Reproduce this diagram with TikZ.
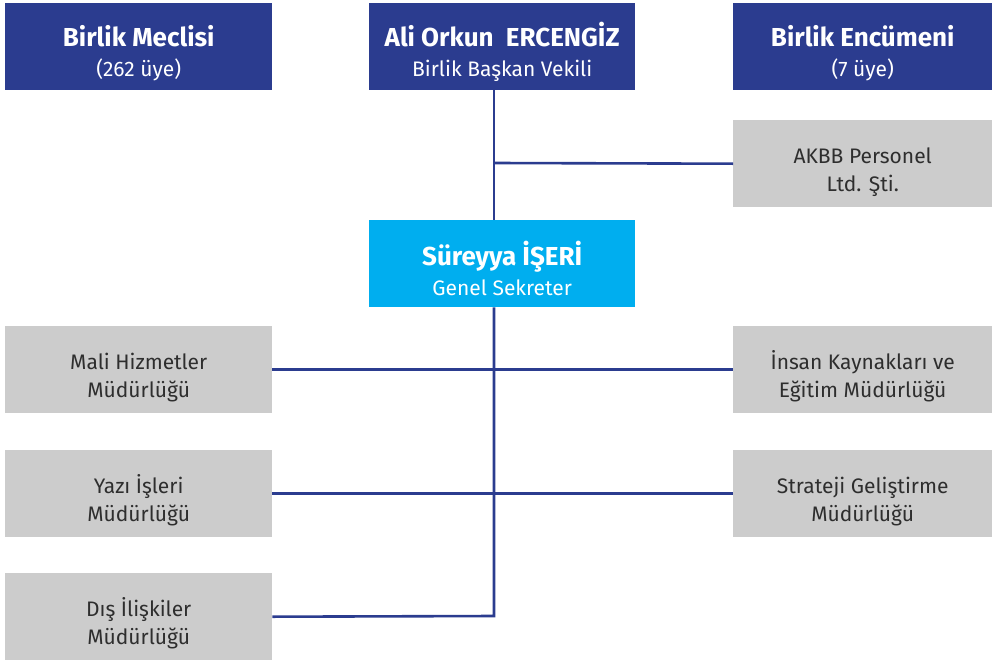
\documentclass[tikz,border=0pt]{standalone}
\usepackage{fontspec}
\setmainfont{Fira Sans}
\definecolor{navy}{HTML}{2B3C8F}
\definecolor{cyanbox}{HTML}{00AEEF}
\definecolor{greybox}{HTML}{CCCCCC}
\definecolor{greytext}{HTML}{2E2E2E}
\begin{document}
\begin{tikzpicture}[x=1pt,y=-1pt,
  boxbase/.style={minimum height=87pt, inner sep=0pt, align=center, anchor=north west},
  navybox/.style={boxbase, fill=navy, text=white, font=\fontsize{21}{30}\selectfont, text height=64pt},
  cyanb/.style={boxbase, fill=cyanbox, text=white, font=\fontsize{21}{30}\selectfont, text height=64pt},
  greyb/.style={boxbase, fill=greybox, text=greytext, font=\fontsize{21}{28}\selectfont, text height=60pt},
  conn/.style={draw=navy, line width=2.6pt},
]
\useasboundingbox (0,0) rectangle (992,661);
\newcommand{\ttlx}[1]{{\fontsize{26}{30}\selectfont\bfseries #1}}
\node[navybox, minimum width=267pt] (meclis) at (5,3) {\ttlx{Birlik Meclisi}\\(262 üye)};
\node[navybox, minimum width=266pt] (baskan) at (369,3) {\ttlx{Ali Orkun\ \ ERCENGİZ}\\Birlik Başkan Vekili};
\node[navybox, minimum width=259pt] (encumen) at (733,3) {\ttlx{Birlik Encümeni}\\(7 üye)};
\node[greyb, minimum width=259pt] (akbb) at (733,120) {AKBB Personel\\Ltd. Şti.};
\node[cyanb, minimum width=266pt] (sekreter) at (369,220) {\ttlx{Süreyya İŞERİ}\\Genel Sekreter};
\node[greyb, minimum width=267pt] (mali) at (5,326) {Mali Hizmetler\\Müdürlüğü};
\node[greyb, minimum width=259pt] (insan) at (733,326) {İnsan Kaynakları ve\\Eğitim Müdürlüğü};
\node[greyb, minimum width=267pt] (yazi) at (5,450) {Yazı İşleri\\Müdürlüğü};
\node[greyb, minimum width=259pt] (strateji) at (733,450) {Strateji Geliştirme\\Müdürlüğü};
\node[greyb, minimum width=267pt] (dis) at (5,573) {Dış İlişkiler\\Müdürlüğü};
\coordinate (j1) at (494,163);
\coordinate (jend) at (494,616);
\draw[conn] (baskan.south -| j1) -- (sekreter.north -| j1);
\draw[conn] (j1) -- (akbb.west);
\draw[conn] (sekreter.south -| j1) -- (jend) -- (dis.east);
\draw[conn] (mali.east) -- (insan.west);
\draw[conn] (yazi.east) -- (strateji.west);
\end{tikzpicture}
\end{document}
